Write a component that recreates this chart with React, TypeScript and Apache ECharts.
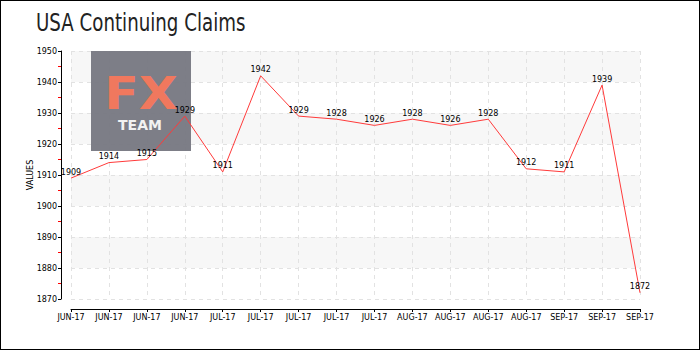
import React, { useEffect, useRef } from "react";
import * as echarts from "echarts";

const categories = [
  "JUN-17", "JUN-17", "JUN-17", "JUN-17",
  "JUL-17", "JUL-17", "JUL-17", "JUL-17", "JUL-17",
  "AUG-17", "AUG-17", "AUG-17", "AUG-17",
  "SEP-17", "SEP-17", "SEP-17",
];
const values = [1909, 1914, 1915, 1929, 1911, 1942, 1929, 1928, 1926, 1928, 1926, 1928, 1912, 1911, 1939, 1872];
const yMin = 1870;
const yMax = 1950;
const yStep = 10;
const titleText = "USA Continuing Claims";
const yName = "VALUES";

const labelFont = "'DejaVu Sans', sans-serif";

export default function App() {
  const ref = useRef<HTMLDivElement>(null);
  useEffect(() => {
    if (!ref.current) return;
    const chart = echarts.init(ref.current, undefined, { renderer: "svg" });
    chart.setOption({
      animation: false,
      backgroundColor: "#fff",
      graphic: [
        {
          type: "text",
          x: 35,
          y: 22,
          scaleX: 0.76,
          z: 10,
          style: {
            text: titleText,
            fill: "#222",
            font: "normal 24px 'DejaVu Sans', sans-serif",
            lineHeight: 26,
            align: "left",
            verticalAlign: "middle",
          },
        },
        {
          type: "rect",
          left: 90,
          top: 50,
          z: 1,
          shape: { width: 100, height: 100 },
          style: { fill: "rgba(120,121,130,0.96)" },
        },
        {
          type: "text",
          x: 140,
          y: 93,
          scaleX: 1.15,
          z: 1,
          style: {
            text: "FX",
            fill: "#f0785e",
            font: "bold 44px 'DejaVu Sans', sans-serif",
            align: "center",
            verticalAlign: "middle",
          },
        },
        {
          type: "text",
          x: 139,
          y: 123.5,
          z: 1,
          style: {
            text: "TEAM",
            fill: "#f2f2f2",
            font: "bold 14px 'DejaVu Sans', sans-serif",
            align: "center",
            verticalAlign: "middle",
          },
        },
      ],
      grid: { left: 70, right: 59, top: 50, bottom: 50, containLabel: false },
      xAxis: {
        type: "category",
        data: categories,
        boundaryGap: false,
        offset: 10,
        axisLine: { show: true, lineStyle: { color: "#000", width: 1 } },
        axisTick: { show: true, alignWithLabel: true, length: 3, lineStyle: { color: "#000" } },
        axisLabel: {
          interval: 0,
          color: "#000",
          fontFamily: labelFont,
          fontSize: 8,
          margin: 4,
        },
        splitLine: { show: true, lineStyle: { color: "#e2e2e2", type: [4, 4] } },
      },
      yAxis: {
        type: "value",
        min: yMin,
        max: yMax,
        interval: yStep,
        offset: 10,
        name: yName,
        nameLocation: "middle",
        nameGap: 27,
        nameMoveOverlap: false,
        nameTextStyle: { fontFamily: labelFont, fontSize: 8, color: "#000" },
        axisLine: { show: true, lineStyle: { color: "#000", width: 1 } },
        axisTick: { show: true, length: 3, lineStyle: { color: "#000" } },
        minorTick: { show: true, splitNumber: 2, length: 3, lineStyle: { color: "#ff0000" } },
        axisLabel: {
          color: "#000",
          fontFamily: labelFont,
          fontSize: 8,
          margin: 4,
          formatter: (v: number) => String(v),
        },
        splitLine: { show: true, lineStyle: { color: "#e2e2e2", type: [4, 4] } },
        splitArea: { show: true, areaStyle: { color: ["#ffffff", "#f7f7f7"] } },
      },
      series: [
        {
          type: "line",
          data: values,
          z: 5,
          symbol: "circle",
          symbolSize: 0,
          showSymbol: true,
          itemStyle: { color: "#ff3a3a" },
          lineStyle: { color: "#ff3a3a", width: 1 },
          label: {
            show: true,
            position: "top",
            distance: 2,
            color: "#000",
            fontFamily: labelFont,
            fontSize: 8,
          },
        },
      ],
    });
    return () => chart.dispose();
  }, []);
  return (
    <div
      ref={ref}
      style={{
        position: "fixed",
        left: 0,
        top: 0,
        width: 700,
        height: 350,
        boxSizing: "border-box",
        border: "1px solid #000",
        background: "#fff",
      }}
    />
  );
}
